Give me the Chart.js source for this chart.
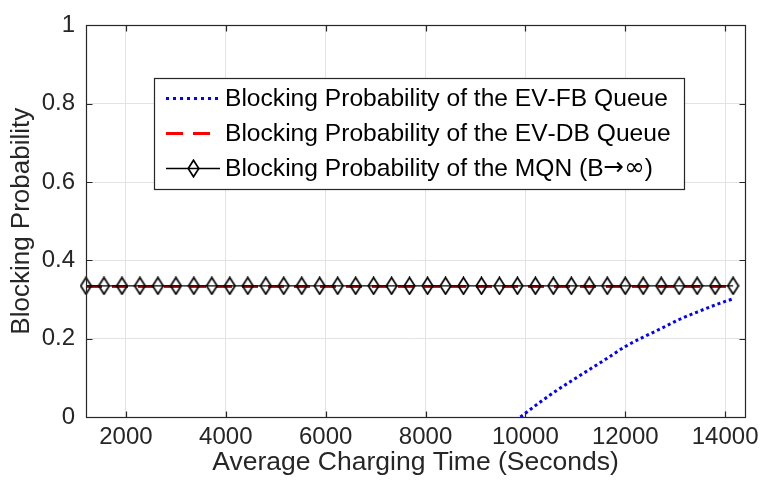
<!DOCTYPE html>
<html><head><meta charset="utf-8">
<script src="https://cdn.jsdelivr.net/npm/chart.js@4.4.0/dist/chart.umd.min.js"></script>
<style>html,body{margin:0;padding:0;background:#fff;}canvas{display:block;}</style>
</head><body>
<canvas id="c" width="765" height="482"></canvas>
<script>
// ---- data ----
const chargingTimes = [1200,1560,1920,2280,2640,3000,3360,3720,4080,4440,4800,5160,5520,5880,6240,6600,6960,7320,7680,8040,8400,8760,9120,9480,9840,10200,10560,10920,11280,11640,12000,12360,12720,13080,13440,13800,14160];
const dbBlocking = [0.333,0.333,0.333,0.333,0.333,0.333,0.333,0.333,0.333,0.333,0.333,0.333,0.333,0.333,0.333,0.333,0.333,0.333,0.333,0.333,0.333,0.333,0.333,0.333,0.333,0.333,0.333,0.333,0.333,0.333,0.333,0.333,0.333,0.333,0.333,0.333,0.333];
const mqnBlocking = [0.335,0.335,0.335,0.335,0.335,0.335,0.335,0.335,0.335,0.335,0.335,0.335,0.335,0.335,0.335,0.335,0.335,0.335,0.335,0.335,0.335,0.335,0.335,0.335,0.335,0.335,0.335,0.335,0.335,0.335,0.335,0.335,0.335,0.335,0.335,0.335,0.335];
const fbTimes = [9900,10200,10560,10920,11280,11640,12000,12360,12720,13080,13440,13800,14160];
const fbBlocking = [0.0,0.029,0.062,0.092,0.121,0.150,0.180,0.204,0.226,0.249,0.268,0.286,0.302];
const xTickValues = [2000,4000,6000,8000,10000,12000,14000];
const yTickValues = [0,0.2,0.4,0.6,0.8,1];
const seriesLabels = ['Blocking Probability of the EV-FB Queue','Blocking Probability of the EV-DB Queue','Blocking Probability of the MQN (B\u2192\u221E)'];

const FONT = '"Liberation Sans", Arial, Helvetica, sans-serif';
const SYMBOL_FONT = '"DejaVu Sans", sans-serif';
const AXIS_COLOR = '#262626';

// diamond marker (taller than wide, unfilled)
const diamond = document.createElement('canvas');
diamond.width = 13; diamond.height = 19;
(function(){ const g = diamond.getContext('2d'); g.strokeStyle = '#000'; g.lineWidth = 1.7;
  g.beginPath(); g.moveTo(6.5,1.2); g.lineTo(11.8,9.5); g.lineTo(6.5,17.8); g.lineTo(1.2,9.5); g.closePath(); g.stroke(); })();

const frameTicks = {
  id: 'frameTicks',
  afterDraw(chart) {
    const {ctx, chartArea: a, scales: {x, y}} = chart;
    ctx.save();
    ctx.strokeStyle = AXIS_COLOR; ctx.lineWidth = 1.2;
    const L = Math.round(a.left)+0.5, R = Math.round(a.right)+0.5, T = Math.round(a.top)+0.5, B = Math.round(a.bottom)+0.5;
    ctx.strokeRect(L, T, R-L, B-T);
    const len = 6;
    ctx.beginPath();
    x.ticks.forEach(t => { const px = Math.round(x.getPixelForValue(t.value))+0.5;
      ctx.moveTo(px, B); ctx.lineTo(px, B-len); ctx.moveTo(px, T); ctx.lineTo(px, T+len); });
    y.ticks.forEach(t => { const py = Math.round(y.getPixelForValue(t.value))+0.5;
      ctx.moveTo(L, py); ctx.lineTo(L+len, py); ctx.moveTo(R, py); ctx.lineTo(R-len, py); });
    ctx.stroke();
    ctx.restore();
  }
};

function drawMixedText(ctx, text, x, y, size) {
  // symbols (arrow, infinity) drawn with a font that has larger glyphs
  let cx = x;
  for (const ch of text) {
    const sym = (ch === '\u2192' || ch === '\u221E');
    ctx.font = (sym ? (size) + 'px ' + SYMBOL_FONT : size + 'px ' + FONT);
    ctx.fillText(ch, cx, y);
    cx += ctx.measureText(ch).width;
  }
}

const boxLegend = {
  id: 'boxLegend',
  afterDraw(chart) {
    const ctx = chart.ctx;
    const bx = 154.5, by = 78.5, bw = 530, bh = 111;
    ctx.save();
    ctx.fillStyle = '#fff'; ctx.fillRect(bx, by, bw, bh);
    ctx.strokeStyle = AXIS_COLOR; ctx.lineWidth = 1.2; ctx.strokeRect(bx, by, bw, bh);
    const rows = [98, 133, 168];
    const x0 = 166, x1 = 220, tx = 225;
    chart.data.datasets.forEach((ds, i) => {
      const yy = rows[i] + 0.5;
      ctx.save();
      ctx.strokeStyle = ds.borderColor; ctx.lineWidth = ds.borderWidth;
      ctx.lineCap = 'butt';
      ctx.setLineDash(ds.legendDash || []);
      ctx.beginPath(); ctx.moveTo(x0, yy); ctx.lineTo(x1, yy); ctx.stroke();
      ctx.restore();
      if (ds.pointStyle instanceof HTMLCanvasElement) {
        const img = ds.pointStyle;
        ctx.drawImage(img, Math.round((x0+x1)/2 - img.width/2), Math.round(yy - img.height/2));
      }
      ctx.fillStyle = '#000'; ctx.textBaseline = 'middle'; ctx.textAlign = 'left';
      drawMixedText(ctx, ds.label, tx, rows[i] + 1, 24.6);
    });
    ctx.restore();
  }
};

new Chart(document.getElementById('c'), {
  type: 'line',
  data: {
    datasets: [
      { label: seriesLabels[0], data: fbTimes.map((t,i)=>({x:t, y:fbBlocking[i]})),
        borderColor: '#0000ff', borderWidth: 3, borderDash: [3,3], legendDash: [3,4], borderCapStyle: 'butt',
        pointRadius: 0, fill: false, order: 3, cubicInterpolationMode: 'monotone' },
      { label: seriesLabels[1], data: chargingTimes.map((t,i)=>({x:t, y:dbBlocking[i]})),
        borderColor: '#ff0000', borderWidth: 3, borderDash: [16,10], legendDash: [17,10], borderCapStyle: 'butt',
        pointRadius: 0, fill: false, order: 2 },
      { label: seriesLabels[2], data: chargingTimes.map((t,i)=>({x:t, y:mqnBlocking[i]})),
        borderColor: '#000000', borderWidth: 1.3, pointStyle: diamond, pointRadius: 8,
        fill: false, order: 1, clip: false }
    ]
  },
  options: {
    responsive: false, animation: false, devicePixelRatio: 1,
    layout: { padding: { left: 0, top: 16, right: 17, bottom: 0 } },
    plugins: { legend: { display: false }, tooltip: { enabled: false } },
    scales: {
      x: {
        type: 'linear', min: 1200, max: 14400,
        afterBuildTicks(s) { s.ticks = xTickValues.map(v => ({value: v})); },
        afterFit(s) { s.height = 65; },
        border: { display: false },
        grid: { color: '#e3e3e3', lineWidth: 1, drawTicks: false },
        ticks: { font: { family: FONT, size: 24 }, color: AXIS_COLOR, padding: 6, maxRotation: 0, autoSkip: false,
                 callback: v => String(v) },
        title: { display: true, text: 'Average Charging Time (Seconds)', color: AXIS_COLOR,
                 font: { family: FONT, size: 26.5 }, padding: { top: 0, bottom: 3 } }
      },
      y: {
        type: 'linear', min: 0, max: 1,
        afterBuildTicks(s) { s.ticks = yTickValues.map(v => ({value: v})); },
        afterFit(s) { s.width = 86; },
        border: { display: false },
        grid: { color: '#e3e3e3', lineWidth: 1, drawTicks: false },
        ticks: { font: { family: FONT, size: 24 }, color: AXIS_COLOR, padding: 11,
                 callback: v => String(v) },
        title: { display: true, text: 'Blocking Probability', color: AXIS_COLOR,
                 font: { family: FONT, size: 26 }, padding: { top: 6, bottom: 0 } }
      }
    }
  },
  plugins: [frameTicks, boxLegend]
});
</script>
</body></html>
